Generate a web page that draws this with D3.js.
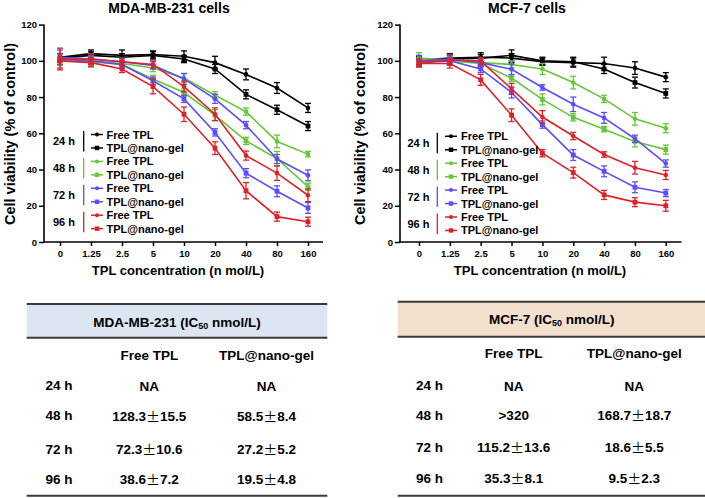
<!DOCTYPE html>
<html><head><meta charset="utf-8">
<script src="https://cdn.jsdelivr.net/npm/d3@7"></script>
<style>
html,body{margin:0;padding:0;background:#fff;}
text{font-family:"Liberation Sans",Arial,sans-serif;font-weight:bold;}
</style></head>
<body><svg id="c" width="705" height="498"></svg>
<script>
// ---------- data ----------
const conc = ["0","1.25","2.5","5","10","20","40","80","160"];
const yTicks = [0,20,40,60,80,100,120];
const groups = ["24 h","48 h","72 h","96 h"];
const groupColors = ["#000000","#66c635","#5a4cff","#dc2229"];
const seriesNames = ["Free TPL","TPL@nano-gel"];

// MDA-MB-231
const mdaFree24 = [102,104,103,103.5,102.5,99,92.5,85,74];
const mdaFree24Err = [2,2,3,2,3,3.5,3,3,2.5];
const mdaNano24 = [101.5,103,102,103,101,95.5,81.5,73,64];
const mdaNano24Err = [2,2,2,2,2,2.5,2.5,2.5,2.5];
const mdaFree48 = [101,100,98.5,96,90.5,81,72,55.5,48.5];
const mdaFree48Err = [3,3,2,2,2.5,2,2,3.5,1.5];
const mdaNano48 = [100.5,99.5,98,90,82.5,70,55.8,46,30.5];
const mdaNano48Err = [3,3,2,2,2,3,2,4,2];
const mdaFree72 = [102,101,99.5,97.5,90,79,64.5,45.8,36.8];
const mdaFree72Err = [4,2,2,2,3,2.5,2,2.5,3];
const mdaNano72 = [101,100,98,89,79,60.5,38,28,18.8];
const mdaNano72Err = [3,2,2,2,2,2,2.5,3,3];
const mdaFree96 = [101,101,99.5,98,85.8,70.5,47.7,38,25.8];
const mdaFree96Err = [6,3,2,2,3,3.5,2.5,4,3.5];
const mdaNano96 = [100,99,95.5,85.8,70.5,51.8,28.3,14,11.2];
const mdaNano96Err = [4,2,2,4,4,3.5,4.5,2.5,2.5];

// MCF-7
const mcfFree24 = [100.5,101.5,102,101.5,99.5,99,98.5,96,91];
const mcfFree24Err = [2,2,2.5,2.5,2,2.5,3.5,3.5,2.5];
const mcfNano24 = [100,101,101.5,103,100,99.5,95.5,88,82];
const mcfNano24Err = [2,3,2,3,2,2.5,2.5,3,2.5];
const mcfFree48 = [101.5,100.5,99,98,95.5,88,79,68,62.8];
const mcfFree48Err = [3,2,2,2,3,3.5,2,3.5,2.5];
const mcfNano48 = [101,100,98.5,90.5,78.7,68.8,62.3,55.5,51];
const mcfNano48Err = [2,2,2,2,3,2,1.5,3,2.5];
const mcfFree72 = [100,101,99,95.3,85.3,76,68.5,57,43.3];
const mcfFree72Err = [3,2,2,3,1.5,4,3,2,2];
const mcfNano72 = [99,100,95.5,82.5,64.8,48,39,30.2,27];
const mcfNano72Err = [2,2,2,3,2,3,3,3,2];
const mcfFree96 = [99,100.5,100,84.5,69,58.5,48.3,41,37];
const mcfFree96Err = [2,3,2,3,3.5,2,1.5,3.5,2.5];
const mcfNano96 = [98.5,98.5,89.5,70,49,38.3,26,22,20];
const mcfNano96Err = [2,2.5,3,3.5,2,3,2.5,2.5,3];

// IC50 tables
const tableRows = ["24 h","48 h","72 h","96 h"];
const tableCols = ["Free TPL","TPL@nano-gel"];
const mdaIcFree = ["NA","128.3\u00B115.5","72.3\u00B110.6","38.6\u00B17.2"];
const mdaIcNano = ["NA","58.5\u00B18.4","27.2\u00B15.2","19.5\u00B14.8"];
const mcfIcFree = ["NA",">320","115.2\u00B113.6","35.3\u00B18.1"];
const mcfIcNano = ["NA","168.7\u00B118.7","18.6\u00B15.5","9.5\u00B12.3"];

// ---------- drawing ----------
const svg = d3.select("#c");
svg.append("rect").attr("width",705).attr("height",498).attr("fill","#fff");

function buildSeries(vals){
  const out=[];
  for(let gi=0;gi<4;gi++){
    out.push({g:gi,type:0,v:vals[gi*4],e:vals[gi*4+1]});
    out.push({g:gi,type:1,v:vals[gi*4+2],e:vals[gi*4+3]});
  }
  return out;
}
const mdaSeries = buildSeries([mdaFree24,mdaFree24Err,mdaNano24,mdaNano24Err,mdaFree48,mdaFree48Err,mdaNano48,mdaNano48Err,mdaFree72,mdaFree72Err,mdaNano72,mdaNano72Err,mdaFree96,mdaFree96Err,mdaNano96,mdaNano96Err]);
const mcfSeries = buildSeries([mcfFree24,mcfFree24Err,mcfNano24,mcfNano24Err,mcfFree48,mcfFree48Err,mcfNano48,mcfNano48Err,mcfFree72,mcfFree72Err,mcfNano72,mcfNano72Err,mcfFree96,mcfFree96Err,mcfNano96,mcfNano96Err]);

function drawPanel(p){
  const g = svg.append("g");
  const x = d3.scalePoint().domain(conc).range([p.x0,p.x1]);
  const y = d3.scaleLinear().domain([0,120]).range([242,24.6]);

  const yAx = g.append("g").attr("transform",`translate(${p.ax},0)`)
    .call(d3.axisLeft(y).tickValues(yTicks).tickSize(5).tickPadding(2));
  yAx.select(".domain").remove();
  const xAx = g.append("g").attr("transform",`translate(0,242)`)
    .call(d3.axisBottom(x).tickSize(4).tickPadding(4));
  xAx.select(".domain").remove();
  [yAx,xAx].forEach(a=>{
    a.selectAll("line").attr("stroke","#000").attr("stroke-width",1.5);
    a.selectAll("text").attr("font-size",9.5).attr("fill","#000")
      .style("font-family","'Liberation Sans',Arial,sans-serif").style("font-weight","bold");
  });
  g.append("line").attr("x1",p.ax).attr("x2",p.ax).attr("y1",242.7).attr("y2",y(120))
    .attr("stroke","#000").attr("stroke-width",1.6);
  g.append("line").attr("x1",p.ax).attr("x2",p.xEnd).attr("y1",242).attr("y2",242)
    .attr("stroke","#000").attr("stroke-width",1.6);

  g.append("text").attr("x",p.titleX).attr("y",12.5).attr("text-anchor","middle")
    .attr("font-size",14).text(p.title);
  g.append("text").attr("x",p.xtX).attr("y",275).attr("text-anchor","middle")
    .attr("font-size",13).text("TPL concentration (n mol/L)");
  g.append("text").attr("transform",`translate(${p.ytX},134) rotate(-90)`)
    .attr("text-anchor","middle").attr("dominant-baseline","central")
    .attr("font-size",14.5).text("Cell viability (% of control)");

  const line = d3.line().x((d,i)=>x(conc[i])).y(d=>y(d));
  p.series.forEach(s=>{
    const col = groupColors[s.g];
    const sg = g.append("g");
    sg.append("path").attr("d",line(s.v)).attr("fill","none").attr("stroke",col).attr("stroke-width",1.6);
    s.v.forEach((v,i)=>{
      const cx = x(conc[i]);
      const e = s.e[i];
      sg.append("line").attr("x1",cx).attr("x2",cx).attr("y1",y(v-e)).attr("y2",y(v+e)).attr("stroke",col).attr("stroke-width",1.3);
      [v-e,v+e].forEach(t=>sg.append("line").attr("x1",cx-3).attr("x2",cx+3).attr("y1",y(t)).attr("y2",y(t)).attr("stroke",col).attr("stroke-width",1.3));
      if(s.type===0) sg.append("circle").attr("cx",cx).attr("cy",y(v)).attr("r",2.3).attr("fill",col);
      else sg.append("rect").attr("x",cx-2.4).attr("y",y(v)-2.4).attr("width",4.8).attr("height",4.8).attr("fill",col);
    });
  });

  const lg = g.append("g");
  for(let gi=0;gi<4;gi++){
    const col = groupColors[gi];
    const yA = p.legY + gi*2*13.45, yB = yA+13.45;
    lg.append("text").attr("x",p.legLabX).attr("y",(yA+yB)/2).attr("text-anchor","middle")
      .attr("dominant-baseline","central").attr("font-size",11).text(groups[gi]);
    lg.append("line").attr("x1",p.legBarX).attr("x2",p.legBarX).attr("y1",yA-3.5).attr("y2",yB+3.5)
      .attr("stroke",col).attr("stroke-width",1.3);
    [yA,yB].forEach((yy,k)=>{
      lg.append("line").attr("x1",p.legL0).attr("x2",p.legL1).attr("y1",yy).attr("y2",yy).attr("stroke",col).attr("stroke-width",1.5);
      const mx=(p.legL0+p.legL1)/2;
      if(k===0) lg.append("circle").attr("cx",mx).attr("cy",yy).attr("r",2).attr("fill",col);
      else lg.append("rect").attr("x",mx-2.2).attr("y",yy-2.2).attr("width",4.4).attr("height",4.4).attr("fill",col);
      lg.append("text").attr("x",p.legTX).attr("y",yy).attr("dominant-baseline","central")
        .attr("font-size",11).text(seriesNames[k]);
    });
  }
}

drawPanel({x0:60,x1:308,ax:44,xEnd:323,title:"MDA-MB-231 cells",titleX:169,xtX:178,ytX:10,
  series:mdaSeries,legY:134.5,legLabX:64,legBarX:83.7,legL0:91,legL1:103,legTX:106.5});
drawPanel({x0:419,x1:665.8,ax:400,xEnd:681.5,title:"MCF-7 cells",titleX:527,xtX:540,ytX:359.5,
  series:mcfSeries,legY:136.3,legLabX:418.5,legBarX:437.3,legL0:445,legL1:457,legTX:461});

function valueText(sel, str){
  const parts = str.split("\u00B1");
  sel.append("tspan").text(parts[0]);
  if(parts.length>1){
    sel.append("tspan").style("font-family","'Noto Sans CJK SC','Liberation Sans',sans-serif")
      .style("font-weight","normal").attr("font-size",14).text("\u00B1");
    sel.append("tspan").text(parts[1]);
  }
}

function drawTable(t){
  const g = svg.append("g");
  g.append("rect").attr("x",t.x0).attr("y",t.yTop).attr("width",t.x1-t.x0).attr("height",t.yMid-t.yTop).attr("fill",t.fill);
  [t.yTop,t.yMid,t.yBot].forEach(yy=>g.append("line").attr("x1",t.x0).attr("x2",t.x1).attr("y1",yy).attr("y2",yy)
    .attr("stroke","#3a3a3a").attr("stroke-width",2));
  const h = g.append("text").attr("x",t.hX).attr("y",t.hY).attr("text-anchor","middle")
    .attr("dominant-baseline","central").attr("font-size",13.5);
  h.append("tspan").text(t.name+" (IC");
  h.append("tspan").attr("font-size",9).attr("dy",4).text("50");
  h.append("tspan").attr("dy",-4).text(" nmol/L)");
  tableCols.forEach((c,i)=>g.append("text").attr("x",t.colX[i]).attr("y",t.colY).attr("text-anchor","middle")
    .attr("dominant-baseline","central").attr("font-size",13.5).text(c));
  tableRows.forEach((r,j)=>{
    g.append("text").attr("x",t.rowX).attr("y",t.rowY[j]).attr("dominant-baseline","central").attr("font-size",13.5).text(r);
    [t.free[j],t.nano[j]].forEach((v,i)=>{
      const tx = g.append("text").attr("x",t.colX[i]).attr("y",t.rowY[j]).attr("text-anchor","middle")
        .attr("dominant-baseline","central").attr("font-size",13.5);
      valueText(tx, v);
    });
  });
}
drawTable({x0:26.7,x1:327.3,yTop:304,yMid:337.7,yBot:495.7,fill:"#dce6f2",name:"MDA-MB-231",hX:177,hY:321.7,
  colX:[149.3,266.5],colY:355,rowX:45.5,rowY:[385.7,415.7,449,479.3],free:mdaIcFree,nano:mdaIcNano});
drawTable({x0:397.7,x1:705,yTop:301.7,yMid:336.7,yBot:495.7,fill:"#f2dfcc",name:"MCF-7",hX:551.7,hY:319.3,
  colX:[513.7,634.3],colY:353.3,rowX:416,rowY:[385.7,415,447.3,478.3],free:mcfIcFree,nano:mcfIcNano});
</script>
</body></html>
